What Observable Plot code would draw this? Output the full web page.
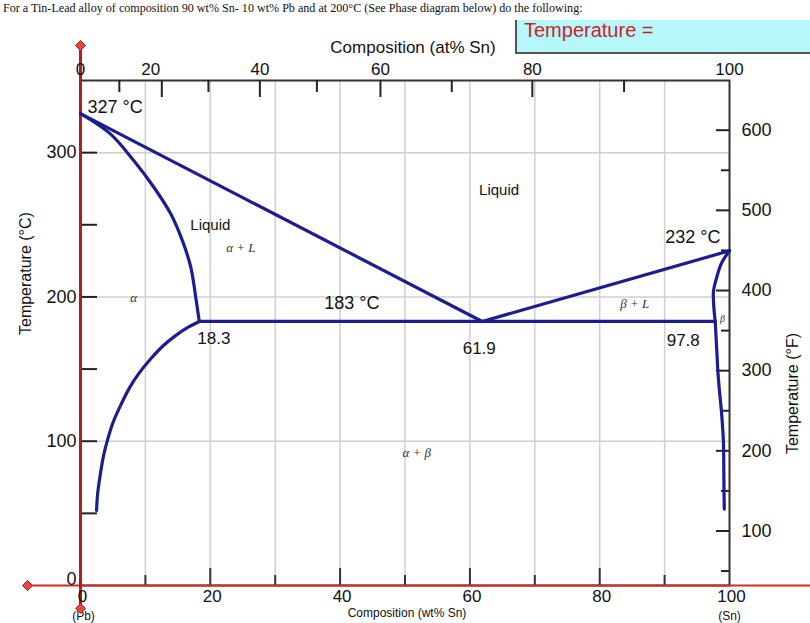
<!DOCTYPE html>
<html><head><meta charset="utf-8">
<script src="https://cdn.jsdelivr.net/npm/d3@7"></script>
<script src="https://cdn.jsdelivr.net/npm/@observablehq/plot@0.6"></script>
<style>
html,body{margin:0;padding:0;background:#fff;}
#wrap{position:relative;width:810px;height:623px;overflow:hidden;}
#head{position:absolute;left:3px;top:1px;font:12.1px "Liberation Serif","Times New Roman",serif;color:#111;white-space:nowrap;z-index:2}
#tbox{position:absolute;left:515px;top:20px;width:295px;height:32px;background:#b6f7f9;border-left:2px solid #555;border-bottom:2px solid #555;z-index:2;}
#tbox span{position:absolute;left:7px;top:-1px;font:20px "Liberation Sans",Arial,sans-serif;color:#cc1f2a;white-space:nowrap}
#chart svg{position:absolute;left:0;top:0}
</style></head>
<body>
<div id="wrap">
<div id="head">For a Tin-Lead alloy of composition 90 wt% Sn- 10 wt% Pb and at 200°C (See Phase diagram below) do the following:</div>
<div id="tbox"><span>Temperature =</span></div>
<div id="chart"></div>
</div>
<script>
// ---- data (composition in wt% Sn, temperature in °C) ----
const liquidusLeftX = [0, 61.9];
const liquidusLeftT = [327, 183];
const solidusLeftX = [0, 4.6, 8.2, 11.3, 13.9, 15.7, 17.0, 17.75, 18.3];
const solidusLeftT = [327, 313, 294.5, 276, 257.6, 239, 220.5, 200, 183];
const solvusLeftX = [18.3, 16.6, 14.6, 12.7, 10.8, 9.0, 7.55, 6.3, 5.1, 4.3, 3.6, 3.05, 2.65, 2.47];
const solvusLeftT = [183, 179, 173, 166, 157, 147, 137, 126, 114, 103, 91, 77, 64, 52];
const eutecticX = [18.3, 97.8];
const eutecticT = [183, 183];
const liquidusRightX = [61.9, 100];
const liquidusRightT = [183, 232];
const solidusRightX = [100, 98.9, 98.0, 97.5, 97.6, 97.8];
const solidusRightT = [232, 224.6, 213, 202, 192, 183];
const solvusRightX = [97.8, 98.1, 98.2, 98.45, 98.75, 99.1, 99.15, 99.2];
const solvusRightT = [183, 158, 149, 135, 121, 94, 66, 53];

// tick values
const bottomTicks = [10, 20, 30, 40, 50, 60, 70, 80, 90];
const bottomLabels = [0, 20, 40, 60, 80, 100];
const gridWt = [10, 20, 30, 40, 50, 60, 70, 80, 90];
const gridC = [100, 200, 300];
const leftTicks = [50, 100, 150, 200, 250, 300];
const leftLabels = [0, 100, 200, 300];
const topTicksAt = [10, 20, 30, 40, 50, 60, 70, 80, 90];
const topLabels = [0, 20, 40, 60, 80, 100];
const fTicks = [50, 100, 150, 200, 250, 300, 350, 400, 450, 500, 550, 600];
const fLabels = [100, 200, 300, 400, 500, 600];

// annotations
const regionText = ["Liquid", "Liquid", "183 °C"];
const regionX = [20.0, 64.5, 41.8];
const regionT = [249.5, 273.7, 195.4];
const phaseText = ["α + L", "α", "β + L", "α + β"];
const phaseX = [24.7, 8.2, 85.4, 51.8];
const phaseT = [234, 199.6, 195, 92.2];

// ---- helpers ----
const W = 810, H = 623, mL = 80, mR = 81, mT = 80, mB = 38;
const kx = 100 / (W - mL - mR), ky = 350 / (H - mT - mB);
const toWt = a => 100 * a * 118.71 / (a * 118.71 + (100 - a) * 207.2);
const fToC = f => (f - 32) * 5 / 9;
const tbl = (xs, ts) => xs.map((x, i) => ({x, t: ts[i]}));
const navy = "#1d1d8f";
const sans = "'Liberation Sans', Arial, Helvetica, sans-serif";
const serif = "'Liberation Serif', 'Times New Roman', serif";

const lineOpts = (curve) => ({x: "x", y: "t", stroke: navy, strokeWidth: 3.2, curve, strokeLinejoin: "round", strokeLinecap: "round"});
const handle = {symbol: "diamond2", r: 4.5, fill: "#e84545", stroke: "#b01e1e", strokeWidth: 1};

const chart = Plot.plot({
  width: W, height: H,
  marginLeft: mL, marginRight: mR, marginTop: mT, marginBottom: mB,
  x: {domain: [0, 100], axis: null},
  y: {domain: [0, 350], axis: null},
  style: {fontFamily: sans, background: "transparent", overflow: "visible", color: "#111"},
  marks: [
    // grid
    Plot.ruleX(gridWt, {stroke: "#cfcfcf", strokeWidth: 1.5}),
    Plot.ruleY(gridC, {stroke: "#cfcfcf", strokeWidth: 1.5}),
    Plot.frame({stroke: "#333", strokeWidth: 2}),
    // ticks
    Plot.ruleY(leftTicks, {x1: 0, x2: 17 * kx, stroke: "#222", strokeWidth: 2}),
    Plot.ruleX(topTicksAt, {x: toWt, y1: 350, y2: a => 350 - ky * (a % 20 === 0 ? 17 : 12), stroke: "#222", strokeWidth: 2}),
    Plot.ruleY(fTicks, {y: fToC, x1: f => 100 - kx * (f % 100 === 0 ? 13 : 8), x2: 100, stroke: "#222", strokeWidth: 2}),
    Plot.ruleX(bottomTicks, {x: d => d, y1: 0, y2: w => ky * (w % 20 === 0 ? 17 : 10), stroke: "#333", strokeWidth: 2}),
    // red axes
    Plot.ruleY([0], {insetLeft: -53, insetRight: -81, stroke: "#d42a2a", strokeWidth: 2}),
    Plot.ruleX([0], {insetTop: -35, insetBottom: -25, stroke: "#b01e1e", strokeWidth: 3}),
    // phase boundaries
    Plot.line(tbl(liquidusLeftX, liquidusLeftT), lineOpts("linear")),
    Plot.line(tbl(solidusLeftX, solidusLeftT), lineOpts("catmull-rom")),
    Plot.line(tbl(solvusLeftX, solvusLeftT), lineOpts("catmull-rom")),
    Plot.line(tbl(eutecticX, eutecticT), lineOpts("linear")),
    Plot.line(tbl(liquidusRightX, liquidusRightT), lineOpts("linear")),
    Plot.line(tbl(solidusRightX, solidusRightT), lineOpts("monotone-y")),
    Plot.line(tbl(solvusRightX, solvusRightT), lineOpts("monotone-y")),
    // tick labels
    Plot.text(leftLabels.filter(d => d > 0), {x: 0, y: d => d, text: d => String(d), textAnchor: "end", dx: -4, fontSize: 18}),
    Plot.text(leftLabels.filter(d => d === 0), {x: 0, y: d => d, text: d => String(d), textAnchor: "end", dx: -4, dy: -6, fontSize: 18}),
    Plot.text(fLabels, {x: 100, y: fToC, text: d => String(d), textAnchor: "start", dx: 12, fontSize: 18}),
    Plot.text(topLabels.filter(d => d !== 20), {x: toWt, y: 350, text: d => String(d), dy: -11, fontSize: 17}),
    Plot.text(topLabels.filter(d => d === 20), {x: toWt, y: 350, text: d => String(d), dy: -11, dx: -11, fontSize: 17}),
    Plot.text(bottomLabels, {x: d => d, y: 0, text: d => String(d), dy: 11, dx: 2, fontSize: 17}),
    Plot.text(["(Pb)"], {x: 0, y: 0, text: d => d, dy: 31, dx: 3, fontSize: 12}),
    Plot.text(["(Sn)"], {x: 100, y: 0, text: d => d, dy: 31, fontSize: 12}),
    // axis titles
    Plot.text(["Composition (at% Sn)"], {frameAnchor: "top", text: d => d, dx: 8, dy: -40, fontSize: 17}),
    Plot.text(["Composition (wt% Sn)"], {frameAnchor: "bottom", text: d => d, dx: 2, dy: 31, fontSize: 12}),
    Plot.text(["Temperature (°C)"], {frameAnchor: "left", text: d => d, rotate: -90, dx: -55, dy: 2, fontSize: 16}),
    Plot.text(["Temperature (°F)"], {frameAnchor: "right", text: d => d, rotate: -90, dx: 63, dy: 0, fontSize: 16}),
    // value annotations anchored to data points
    Plot.text(["327 °C"], {x: liquidusLeftX[0], y: liquidusLeftT[0], text: d => d, textAnchor: "start", dx: 7, dy: -6, fontSize: 18}),
    Plot.text(["18.3"], {x: solidusLeftX[solidusLeftX.length - 1], y: 183, text: d => d, textAnchor: "start", dx: -2, dy: 17, fontSize: 17}),
    Plot.text(["61.9"], {x: liquidusLeftX[1], y: 183, text: d => d, dx: -3, dy: 27, fontSize: 17}),
    Plot.text(["97.8"], {x: eutecticX[1], y: 183, text: d => d, dx: -32, dy: 19, fontSize: 17}),
    Plot.text(["232 °C"], {x: 100, y: liquidusRightT[1], text: d => d, textAnchor: "end", dx: -9, dy: -14, fontSize: 18}),
    // region labels
    Plot.text(regionText, {x: (d, i) => regionX[i], y: (d, i) => regionT[i], text: d => d, fontSize: d => d === "183 °C" ? 18 : 15}),
    Plot.text(phaseText, {x: (d, i) => phaseX[i], y: (d, i) => phaseT[i], text: d => d, fontFamily: serif, fontStyle: "italic", fontSize: 13, fill: "#333"}),
    Plot.text(["β"], {x: 98.9, y: 185, text: d => d, fontFamily: serif, fontStyle: "italic", fontSize: 10, fill: "#333"}),
    // red diamond handles
    Plot.dot([null], {frameAnchor: "bottom-left", dx: -53, ...handle}),
    Plot.dot([null], {frameAnchor: "top-left", dy: -35, ...handle}),
    Plot.dot([null], {frameAnchor: "bottom-left", dy: 23, ...handle})
  ]
});
document.getElementById("chart").appendChild(chart);
</script>
</body></html>
